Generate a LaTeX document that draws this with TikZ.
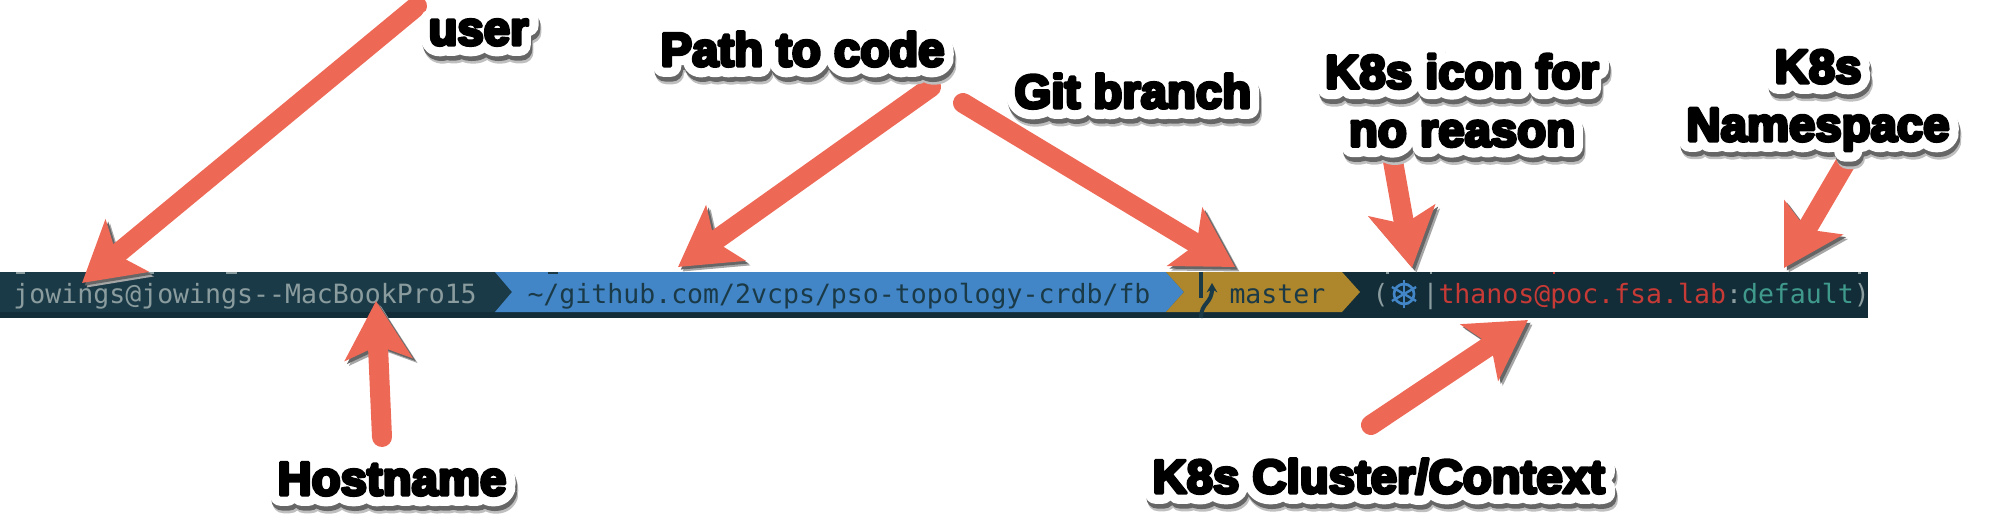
\documentclass[tikz,border=0pt]{standalone}
\usepackage{fontspec}
\usetikzlibrary{arrows.meta}
\setmainfont{Liberation Sans}
\newfontfamily\lblfont[FakeBold=7]{Liberation Sans Bold}
\newfontfamily\halofont[FakeBold=46]{Liberation Sans Bold}
\newfontfamily\promptfont{DejaVu Sans Mono}

\definecolor{barlight}{HTML}{1B3A47}
\definecolor{bardark}{HTML}{122C38}
\definecolor{segblue}{HTML}{4286C8}
\definecolor{seggold}{HTML}{AE862B}
\definecolor{promptgray}{HTML}{8A9C9E}
\definecolor{promptred}{HTML}{C73A35}
\definecolor{promptteal}{HTML}{3F9A8C}
\definecolor{calloutred}{HTML}{EE6856}

\newcommand{\halotxt}[1]{\rlap{\raisebox{-5.5pt}{\hspace{2pt}\color{black!25}\halofont #1}}\rlap{\raisebox{-3.5pt}{\hspace{1.2pt}\color{black!60}\halofont #1}}\rlap{\color{white}\halofont #1}#1}

\tikzset{every picture/.style={line width=0.75pt}}
\tikzset{
  calloutarrow/.style={draw=calloutred,line width=15pt,line cap=round,
    -{Stealth[length=43.5pt,width=50pt,inset=10pt]},
    preaction={draw=black!35,transform canvas={xshift=3.4pt,yshift=-3.4pt}},
    preaction={draw=black!60,transform canvas={xshift=2pt,yshift=-2pt}}},
  calloutlbl/.style={inner sep=0pt,align=center,line join=round,font=\fontsize{35.5}{43.5}\selectfont\lblfont},
  prompttxt/.style={anchor=base west,inner sep=0pt,font=\fontsize{19.9}{24}\selectfont\promptfont},
  peekmark/.style={line width=1.5pt}
}

\begin{document}
\begin{tikzpicture}[x=0.75pt,y=0.75pt,yscale=-1,xscale=1]
    \useasboundingbox (0,0) rectangle (2014,524);

    % Prompt bar
    \fill [bardark] (0,272) rectangle (1868,318);
    \fill [barlight] (0,272) -- (495,272) -- (512,292) -- (495,312) -- (0,312) -- cycle;
    \fill [segblue] (495,272) -- (1166,272) -- (1184,292) -- (1166,312) -- (495,312) -- (512,292) -- cycle;
    \fill [seggold] (1166,272) -- (1342,272) -- (1360,292) -- (1342,312) -- (1166,312) -- (1184,292) -- cycle;

    % Line above, only its last pixels show
    \foreach \x/\w/\c in {16/9/promptgray,147/7/promptgray,226/11/promptgray,548/10/barlight,1386/3/promptgray,1430/2/promptgray,1553/2/promptred,1858/3/promptgray}
      \draw [peekmark,\c] (\x,273) -- ++(\w,0);

    % Prompt text
    \draw (13,303) node (hostseg) [prompttxt,text=promptgray] {jowings@jowings--MacBookPro15};
    \draw (527,303) node (pathseg) [prompttxt,text=barlight] {\char`\~/github.com/2vcps/pso-topology-crdb/fb};
    \draw (1229,303) node (gitseg) [prompttxt,text=barlight] {master};
    \draw (1372,303) node (openseg) [prompttxt,text=promptgray] {(};
    \draw (1422,303) node (pipeseg) [prompttxt,text=promptgray] {|};
    \draw (1438,303) node (kubeseg) [prompttxt,text=promptred] {thanos@poc.fsa.lab\textcolor{promptgray}{:}\textcolor{promptteal}{default}\textcolor{promptgray}{)}};

    % Branch glyph
    \draw [barlight,line width=3pt] (1201,272) -- (1201,298);
    \draw [barlight,line width=3pt,-{Stealth[length=7pt,width=8pt]}] (1201,318) .. controls (1201,302) and (1212,304) .. (1212,283);

    % Wheel icon
    \draw [segblue,line width=2pt] (1404,294) circle [radius=10];
    \foreach \a in {30,90,150}
      \draw [segblue,line width=1.8pt] (1404,294) ++(\a:14) -- ++(\a+180:28);

    % Arrow ends
    \coordinate (usertail) at (417,6);
    \coordinate (usertip) at (82,283);
    \coordinate (hosttail) at (382,437);
    \coordinate (hosttip) at (376,301);
    \coordinate (pathtail) at (931,87);
    \coordinate (pathtip) at (678,267);
    \coordinate (gittail) at (963,103);
    \coordinate (gittip) at (1235,267);
    \coordinate (icontail) at (1391,150);
    \coordinate (icontip) at (1412,268);
    \coordinate (nstail) at (1849,157);
    \coordinate (nstip) at (1784,268);
    \coordinate (clustertail) at (1371,425);
    \coordinate (clustertip) at (1528,320);

    % Arrows
    \draw [calloutarrow] (usertail) -- (usertip);
    \draw [calloutarrow] (hosttail) -- (hosttip);
    \draw [calloutarrow] (pathtail) -- (pathtip);
    \draw [calloutarrow] (gittail) -- (gittip);
    \draw [calloutarrow] (icontail) -- (icontip);
    \draw [calloutarrow] (nstail) -- (nstip);
    \draw [calloutarrow] (clustertail) -- (clustertip);

    % Labels
    \draw (428,45) node (userlbl) [calloutlbl,anchor=base west] {\halotxt{user}};
    \draw (660,66) node (pathlbl) [calloutlbl,anchor=base west] {\halotxt{Path to code}};
    \draw (1014,108) node (gitlbl) [calloutlbl,anchor=base west] {\halotxt{Git branch}};
    \draw (1462,104) node (iconlbl) [calloutlbl] {\halotxt{K8s icon for}\\\halotxt{no reason}};
    \draw (1818,104) node (nslbl) [calloutlbl] {\halotxt{K8s}\\\halotxt{Namespace}};
    \draw (277,495) node (hostlbl) [calloutlbl,anchor=base west] {\halotxt{Hostname}};
    \draw (1152,493) node (clusterlbl) [calloutlbl,anchor=base west] {\halotxt{K8s Cluster/Context}};

\end{tikzpicture}
\end{document}
